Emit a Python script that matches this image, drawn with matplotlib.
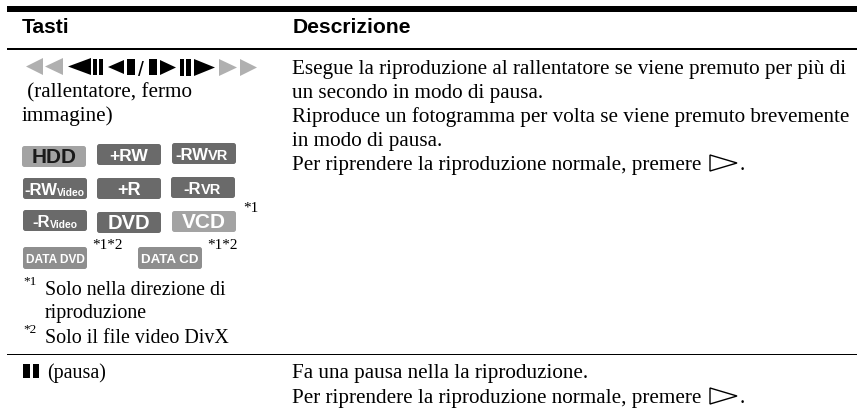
import matplotlib
matplotlib.use("Agg")
import matplotlib.pyplot as plt
from matplotlib.patches import FancyBboxPatch, Polygon, Rectangle

# =========================
# TABLE CONTENT
# =========================
header_left = "Tasti"
header_right = "Descrizione"

left_lines = [" (rallentatore, fermo", "immagine)"]
left_lines_y = [97, 121]

notes = ["Solo nella direzione di", "riproduzione", "Solo il file video DivX"]
notes_y = [295, 318, 343]

desc_top = [
    "Esegue la riproduzione al rallentatore se viene premuto per più di",
    "un secondo in modo di pausa.",
    "Riproduce un fotogramma per volta se viene premuto brevemente",
    "in modo di pausa.",
    "Per riprendere la riproduzione normale, premere",
]
desc_top_y = [73.5, 98, 122, 146, 170]

desc_bottom = [
    "Fa una pausa nella la riproduzione.",
    "Per riprendere la riproduzione normale, premere",
]
desc_bottom_y = [378, 403]

# label, small part, x, y, colour, text colour, size of label
badges = [
    ("HDD", "", 22, 146, "#a3a3a3", "#1a1a1a", 15),
    ("+RW", "", 97, 144, "#6a6a6a", "white", 12.5),
    ("-RW", "VR", 172, 143, "#6a6a6a", "white", 12),
    ("-RW", "Video", 23, 178, "#6a6a6a", "white", 12),
    ("+R", "", 97, 178, "#6a6a6a", "white", 13),
    ("-R", "VR", 171, 177, "#6a6a6a", "white", 12),
    ("-R", "Video", 23, 210, "#6a6a6a", "white", 12),
    ("DVD", "", 97, 212, "#6a6a6a", "white", 14.5),
    ("VCD", "", 172, 211, "#a3a3a3", "white", 15),
]
data_badges = [("DATA DVD", 23, 247, 8.6), ("DATA CD", 138, 247, 9.6)]

marks = [("*1", 243, 212), ("*1*2", 92, 249), ("*1*2", 207, 249)]

SERIF = "Liberation Serif"
SANS = "Liberation Sans"
BODY = 15.25


# =========================
# HELPERS
# =========================
def tri(x0, x1, y0, y1, color="black"):
    # apex at x1
    ax.add_patch(Polygon([(x0, y0), (x0, y1), (x1, (y0 + y1) / 2)], fc=color, ec="none"))


def bar(x0, x1, y0, y1):
    ax.add_patch(Rectangle((x0, y0), x1 - x0, y1 - y0, fc="black", ec="none"))


def play_outline(x, y):
    ax.add_patch(Polygon([(x, y - 8), (x, y + 8), (x + 27, y)], fc="white", ec="black", lw=1))


def badge(x, y, color, w=64, h=21):
    ax.add_patch(FancyBboxPatch((x + 2, y + 2), w - 4, h - 4, boxstyle="round,pad=2,rounding_size=2.5",
                                fc=color, ec="none"))


# =========================
# FIGURE
# =========================
fig = plt.figure(figsize=(8.57, 4.12), dpi=100)
ax = fig.add_axes([0, 0, 1, 1])
ax.set_xlim(0, 857)
ax.set_ylim(412, 0)
ax.axis("off")

# rules
ax.add_patch(Rectangle((7, 6), 850, 6, fc="black", ec="none"))
ax.add_patch(Rectangle((7, 48), 850, 2, fc="black", ec="none"))
ax.add_patch(Rectangle((7, 353.5), 850, 1.2, fc="black", ec="none"))

# headers
ax.text(22, 33, header_left, family=SANS, weight="bold", fontsize=15.2, va="baseline")
ax.text(293, 33, header_right, family=SANS, weight="bold", fontsize=15.2, va="baseline")

# transport symbols
tri(43, 26, 58, 75, "#b0b0b0")
tri(63, 45, 58, 75, "#b0b0b0")
tri(91, 68, 58, 75)
bar(93, 97, 59, 75)
bar(99, 103, 59, 75)
tri(124, 108, 60, 74)
bar(127, 135, 59, 75)
ax.text(138, 76, "/", family=SANS, fontsize=BODY, va="baseline")
bar(149, 157, 59, 75)
tri(160, 176, 60, 75)
bar(180, 184, 59, 76)
bar(186, 191, 59, 76)
tri(194, 215, 59, 76)
tri(219, 237, 59, 76, "#b0b0b0")
tri(240, 257, 59, 76, "#b0b0b0")

# left text
for s, y in zip(left_lines, left_lines_y):
    ax.text(22, y, s, family=SERIF, fontsize=BODY, va="baseline")

# badges
for label, small, x, y, color, tcolor, big in badges:
    badge(x, y, color)
    if small:
        sz = 7.4 if small == "Video" else 10.5
        lx = {"-RW": 1, "-R": 9}[label] if small == "Video" else {"-RW": 3, "-R": 12}[label]
        t = ax.annotate(label, (x + lx, y + 17), family=SANS, weight="bold",
                        fontsize=big, color=tcolor, va="baseline", annotation_clip=False)
        ax.annotate(small, (1, 0), xycoords=t, xytext=(0, 0), textcoords="offset points", family=SANS,
                    weight="bold", fontsize=sz, color=tcolor, va="bottom", ha="left")
    else:
        ax.text(x + 32, y + 17, label, family=SANS, weight="bold", fontsize=big, color=tcolor,
                ha="center", va="baseline")

for label, x, y, size in data_badges:
    badge(x, y, "#8e8e8e", h=22)
    ax.text(x + 32, y + 16, label, family=SANS, weight="bold", fontsize=size,
            color="white", ha="center", va="baseline")

for s, x, y in marks:
    ax.text(x, y, s, family=SERIF, fontsize=11, va="baseline")

# footnotes
ax.text(23, 285, "*1", family=SERIF, fontsize=9.5, va="baseline")
ax.text(23, 333, "*2", family=SERIF, fontsize=9.5, va="baseline")
for s, y in zip(notes, notes_y):
    ax.text(45, y, s, family=SERIF, fontsize=14.4, va="baseline")

# pause row
bar(23, 30, 364, 378)
bar(33, 39, 364, 378)
ax.text(47, 378, "(pausa)", family=SERIF, fontsize=14.4, va="baseline")

# description
for s, y in zip(desc_top, desc_top_y):
    ax.text(292, y, s, family=SERIF, fontsize=BODY, va="baseline")
for s, y in zip(desc_bottom, desc_bottom_y):
    ax.text(292, y, s, family=SERIF, fontsize=BODY, va="baseline")

play_outline(710, 163)
ax.text(740, 170, ".", family=SERIF, fontsize=BODY, va="baseline")
play_outline(710, 396)
ax.text(740, 403, ".", family=SERIF, fontsize=BODY, va="baseline")

fig.savefig("out.png", dpi=100)
